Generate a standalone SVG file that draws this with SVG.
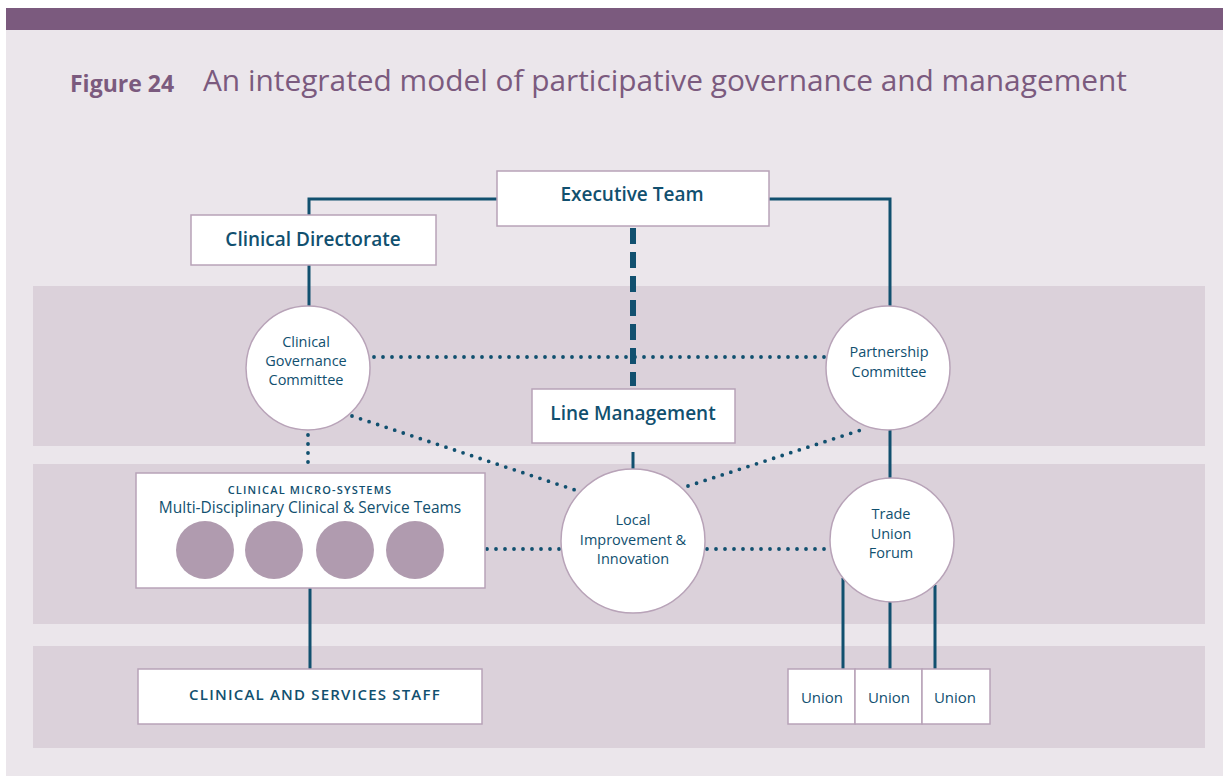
<svg xmlns="http://www.w3.org/2000/svg" width="1223" height="776" viewBox="0 0 1223 776">
<style>
.t{font-family:"Open Sans","Noto Sans","DejaVu Sans",sans-serif;fill:#11506F;text-anchor:middle}
.b{font-weight:600}
.box{fill:#fff;stroke:#B8A3B8;stroke-width:1.5}
.solid{fill:none;stroke:#11506F;stroke-width:3}
.dot{fill:none;stroke:#11506F;stroke-width:3.8;stroke-linecap:round;stroke-dasharray:0 9}
.dash{fill:none;stroke:#11506F;stroke-width:6;stroke-dasharray:16 8}
.mc{fill:#B09BAF}
</style>
<rect x="0" y="0" width="1223" height="776" fill="#fff"/>
<rect x="6" y="30" width="1217" height="746" fill="#EBE6EB"/>
<rect x="6" y="8" width="1217" height="22" fill="#7B5A7E"/>
<text x="70" y="92" font-family="Open Sans,Noto Sans,sans-serif" font-weight="bold" font-size="23" fill="#7B5A7E">Figure 24</text>
<text x="203" y="91" font-family="Open Sans,Noto Sans,sans-serif" font-size="30" fill="#7B5A7E" textLength="924" lengthAdjust="spacingAndGlyphs">An integrated model of participative governance and management</text>
<rect x="33" y="286" width="1172" height="160" fill="#DBD1DA"/>
<rect x="33" y="464" width="1172" height="160" fill="#DBD1DA"/>
<rect x="33" y="646" width="1172" height="102" fill="#DBD1DA"/>
<g id="connectors">
<path class="solid" d="M497 199H309V215M309 265V306M769 199H890V306M890 430V478M843 578V669M890 602V669M935 585V669M310 588V669"/>
<path class="dash" d="M633 228V386"/>
<path class="solid" d="M633 452V469" stroke-width="6"/>
<path class="dot" d="M374 357H826"/>
<path class="dot" d="M308 435V470"/>
<path class="dot" d="M352 416L581 492"/>
<path class="dot" d="M688 486L864 429"/>
<path class="dot" d="M487 549H561"/>
<path class="dot" d="M707 549H830"/>
</g>
<g id="executive-team"><rect class="box" x="497" y="171" width="272" height="55"/><text class="t b" x="632" y="201" font-size="19">Executive Team</text></g>
<g id="clinical-directorate"><rect class="box" x="191" y="215" width="245" height="50"/><text class="t b" x="313" y="246" font-size="19">Clinical Directorate</text></g>
<g id="clinical-governance"><circle class="box" cx="308" cy="368" r="62"/><text class="t" x="306" y="347" font-size="14.5">Clinical</text><text class="t" x="306" y="366" font-size="14.5">Governance</text><text class="t" x="306" y="385" font-size="14.5">Committee</text></g>
<g id="partnership"><circle class="box" cx="888" cy="368" r="62"/><text class="t" x="889" y="357" font-size="14.5">Partnership</text><text class="t" x="889" y="377" font-size="14.5">Committee</text></g>
<g id="line-management"><rect class="box" x="532" y="389" width="203" height="54"/><text class="t b" x="633" y="420" font-size="19">Line Management</text></g>
<g id="micro-systems"><rect class="box" x="136" y="473" width="349" height="115"/><text class="t b" x="310" y="494" font-size="11" letter-spacing="1.2">CLINICAL MICRO-SYSTEMS</text><text class="t" x="310" y="513" font-size="15.5">Multi-Disciplinary Clinical &amp; Service Teams</text><circle class="mc" cx="205" cy="550" r="29"/><circle class="mc" cx="274" cy="550" r="29"/><circle class="mc" cx="345" cy="550" r="29"/><circle class="mc" cx="415" cy="550" r="29"/></g>
<g id="local-improvement"><circle class="box" cx="633" cy="541" r="72"/><text class="t" x="633" y="525" font-size="14.5">Local</text><text class="t" x="633" y="545" font-size="14.5">Improvement &amp;</text><text class="t" x="633" y="564" font-size="14.5">Innovation</text></g>
<g id="trade-union-forum"><circle class="box" cx="892" cy="540" r="62"/><text class="t" x="891" y="519" font-size="14.5">Trade</text><text class="t" x="891" y="538.5" font-size="14.5">Union</text><text class="t" x="891" y="558" font-size="14.5">Forum</text></g>
<g id="staff"><rect class="box" x="138" y="669" width="344" height="55"/><text class="t b" x="315" y="700" font-size="15" letter-spacing="1.2">CLINICAL AND SERVICES STAFF</text></g>
<g id="union-1"><rect class="box" x="788" y="669" width="67" height="55"/><text class="t" x="822" y="703" font-size="15">Union</text></g>
<g id="union-2"><rect class="box" x="855" y="669" width="67" height="55"/><text class="t" x="889" y="703" font-size="15">Union</text></g>
<g id="union-3"><rect class="box" x="922" y="669" width="68" height="55"/><text class="t" x="955" y="703" font-size="15">Union</text></g>
</svg>
